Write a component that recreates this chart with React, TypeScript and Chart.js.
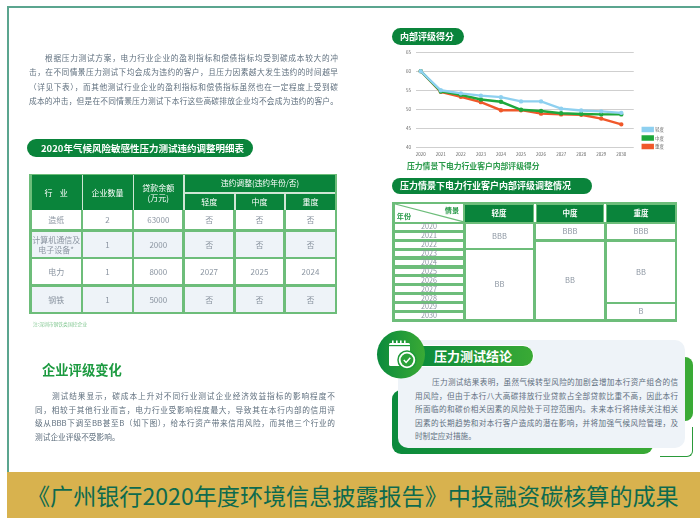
import React, { useEffect, useRef } from "react";
import { Chart, registerables } from "chart.js";

Chart.register(...registerables);

const years = [2020, 2021, 2022, 2023, 2024, 2025, 2026, 2027, 2028, 2029, 2030];
const lightScores = [60, 55, 54.2, 53.6, 53.2, 52.1, 52.1, 50.2, 49.7, 49.5, 49.1];
const midScores = [60, 54.7, 53.8, 52.6, 52, 49.9, 49.6, 49, 48.8, 48.7, 48.7];
const heavyScores = [60, 54.6, 53.3, 51.9, 49.8, 49.8, 48.9, 48.7, 48.6, 47.6, 46.1];
const scenarioNames = ["轻度", "中度", "重度"];

const para1 = [
  "根据压力测试方案,电力行业企业的盈利指标和偿债指标均受到碳成本较大的冲",
  "击,在不同情景压力测试下均会成为违约的客户,且压力因素越大发生违约的时间越早",
  "(详见下表),而其他测试行业企业的盈利指标和偿债指标虽然也在一定程度上受到碳",
  "成本的冲击,但是在不同情景压力测试下本行这些高碳排放企业均不会成为违约的客户。",
];
const para2 = [
  "测试结果显示,碳成本上升对不同行业测试企业经济效益指标的影响程度不",
  "同,相较于其他行业而言,电力行业受影响程度最大,导致其在本行内部的信用评",
  "级从BBB下调至BB甚至B(如下图),给本行资产带来信用风险,而其他三个行业的",
  "测试企业评级不受影响。",
];
const para3 = [
  "压力测试结果表明,虽然气候转型风险的加剧会增加本行资产组合的信",
  "用风险,但由于本行八大高碳排放行业贷款占全部贷款比重不高,因此本行",
  "所面临的和碳价相关因素的风险处于可控范围内。未来本行将持续关注相关",
  "因素的长期趋势和对本行客户造成的潜在影响,并将加强气候风险管理,及",
  "时制定应对措施。",
];
const tableRows = [
  ["造纸", "2", "63000", "否", "否", "否"],
  ["计算机通信及\n电子设备*", "1", "2000", "否", "否", "否"],
  ["电力", "1", "8000", "2027", "2025", "2024"],
  ["钢铁", "1", "5000", "否", "否", "否"],
];
const bannerText = "《广州银行2020年度环境信息披露报告》中投融资碳核算的成果";

const GREEN = "#0a843b";
const FRAME = "#6dbd7a";
const GREY = "#8b95a1";
const CJK = '"Noto Sans CJK SC", sans-serif';

function fullWidth(t: string) {
  return t.replace(/,/g, "\uFF0C").replace(/\(/g, "\uFF08").replace(/\)/g, "\uFF09");
}

function Box({ x, y, w, h, bg, color, size, bold, children, style }: any) {
  return (
    <div
      style={{
        position: "absolute",
        left: x,
        top: y,
        width: w,
        height: h,
        background: bg,
        color,
        fontSize: size,
        fontWeight: bold ? 700 : 400,
        display: "flex",
        alignItems: "center",
        justifyContent: "center",
        textAlign: "center",
        lineHeight: 1.15,
        whiteSpace: "pre",
        ...style,
      }}
    >
      {children}
    </div>
  );
}

function Para({ lines, x, y, w, pitch, indent, size }: any) {
  return (
    <>
      {lines.map((t: string, i: number) => {
        const last = t.length < 15;
        return (
          <div
            key={i}
            style={{
              position: "absolute",
              left: x + (i === 0 ? indent : 0),
              top: y + i * pitch - 6,
              width: w - (i === 0 ? indent : 0),
              height: 12,
              lineHeight: "12px",
              fontSize: size,
              color: "#5f6f7e",
              textAlign: last ? "left" : "justify",
              textAlignLast: last ? "left" : "justify",
              overflow: "hidden",
            }}
          >
            {fullWidth(t)}
          </div>
        );
      })}
    </>
  );
}

function Pill({ x, y, w, h, size, text, textX }: any) {
  return (
    <div
      style={{
        position: "absolute",
        left: x,
        top: y,
        width: w,
        height: h,
        borderRadius: h / 2,
        background: GREEN,
        color: "#fff",
        fontSize: size,
        fontWeight: 700,
        lineHeight: h + "px",
        paddingLeft: textX,
        boxSizing: "border-box",
        whiteSpace: "nowrap",
      }}
    >
      {text}
    </div>
  );
}

const colX = [31.7, 83.3, 134.3, 185, 235.7, 286];
const colW = [49, 48.4, 48, 48.3, 47.6, 49];
const rowY = [210, 232, 259, 287];
const rowH = [19, 25, 25, 25];
const yearTop = [224, 233, 242, 250.7, 259.7, 268.7, 277.3, 286.3, 295.3, 304, 313];

function StressTable() {
  return (
    <>
      <Box x={29} y={174} w={308} h={140} bg={FRAME} />
      <Box x={31.7} y={175} w={303.3} h={35} bg={GREEN} />
      {[81.5, 132.5, 183].map((x) => (
        <Box key={x} x={x} y={175} w={1.5} h={35} bg="#cfe6d5" />
      ))}
      <Box x={185} y={191.5} w={150} h={2} bg="#cfe6d5" />
      {[234, 284.3].map((x) => (
        <Box key={x} x={x} y={193} w={1.5} h={17} bg="#cfe6d5" />
      ))}
      <Box x={31.7} y={175} w={49} h={35} color="#fff" size={8}>{"行    业"}</Box>
      <Box x={83.3} y={175} w={48.4} h={35} color="#fff" size={8}>企业数量</Box>
      <Box x={134.3} y={175} w={48} h={35} color="#fff" size={8}>{"贷款余额\n(万元)"}</Box>
      <Box x={185} y={175} w={150} h={16} color="#fff" size={7.8}>违约调整(违约年份/否)</Box>
      {scenarioNames.map((s, i) => (
        <Box key={s} x={colX[3 + i]} y={194} w={colW[3 + i]} h={16} color="#fff" size={8}>{s}</Box>
      ))}
      {tableRows.map((row, r) =>
        row.map((cell, c) => (
          <Box
            key={r + "-" + c}
            x={colX[c]}
            y={rowY[r]}
            w={colW[c]}
            h={rowH[r]}
            bg={r % 2 ? "#eef3f8" : "#fff"}
            color={GREY}
            size={8}
          >
            {cell}
          </Box>
        ))
      )}
      <Box x={33} y={320} w={60} h={8} color="#86c995" size={4.8} style={{ justifyContent: "flex-start" }}>
        注:深圳市钢铁类国控企业
      </Box>
    </>
  );
}

function RatingTable() {
  const cells = [
    [466, 224, 67, 24, "BBB"],
    [466, 250, 67, 69, "BB"],
    [536, 224, 68, 15, "BBB"],
    [536, 242, 68, 77, "BB"],
    [607, 224, 68, 15, "BBB"],
    [607, 242, 68, 60, "BB"],
    [607, 304, 68, 15, "B"],
  ];
  return (
    <>
      <Box x={392} y={202} w={285} h={120} bg={FRAME} />
      <svg style={{ position: "absolute", left: 394.5, top: 204, width: 68.5, height: 18 }}>
        <rect width="69" height="18" fill="#fff" />
        <line x1="0" y1="0" x2="69" y2="18" stroke={FRAME} strokeWidth="1.2" />
      </svg>
      <Box x={443} y={205} w={18} h={10} color="#2a9a4a" size={7.2} bold>情景</Box>
      <Box x={396} y={211} w={16} h={10} color="#2a9a4a" size={7.2} bold>年份</Box>
      {[
        [465, 68],
        [537, 66],
        [607, 68],
      ].map(([x, w], i) => (
        <Box key={i} x={x} y={205} w={w} h={17} bg={GREEN} color="#fff" size={7.5} bold>
          {scenarioNames[i]}
        </Box>
      ))}
      {[534, 604].map((x) => (
        <Box key={x} x={x} y={204} w={1.5} h={18} bg="#fff" />
      ))}
      {years.map((yr, i) => (
        <React.Fragment key={yr}>
          <Box x={395} y={yearTop[i]} w={68} h={5.8} bg="#fff" />
          <Box x={395} y={yearTop[i] - 1} w={68} h={8} color={GREY} size={7.2} style={{ lineHeight: 1 }}>{String(yr)}</Box>
        </React.Fragment>
      ))}
      {cells.map(([x, y, w, h, t]: any, i) => (
        <Box key={i} x={x} y={y} w={w} h={h} bg="#fff" color={GREY} size={7.5}>{t}</Box>
      ))}
    </>
  );
}

function Conclusion() {
  const grad = "linear-gradient(90deg,#0a8a3c,#3aaa35)";
  return (
    <>
      <div style={{ position: "absolute", left: 392, top: 390, width: 261, height: 64, borderRadius: 9, background: grad }} />
      <div style={{ position: "absolute", left: 670, top: 357, width: 23, height: 64, borderRadius: "0 8px 8px 0", background: "#3aaa35" }} />
      <div style={{ position: "absolute", left: 660, top: 427, width: 32, height: 29, borderRight: "1px solid #2a9a3a", borderBottom: "1px solid #2a9a3a", borderRadius: "0 0 6px 0" }} />
      <div style={{ position: "absolute", left: 398, top: 340, width: 287, height: 108, borderRadius: 10, background: "#eef3f8" }} />
      <div
        style={{
          position: "absolute", left: 415, top: 345, width: 119, height: 22, borderRadius: "0 11px 11px 0",
          background: grad, border: "1px solid #fff", boxSizing: "border-box", color: "#fff", fontWeight: 700,
          fontSize: 13, lineHeight: "20px", paddingLeft: 18,
        }}
      >
        压力测试结论
      </div>
      <svg style={{ position: "absolute", left: 375, top: 329, width: 52, height: 52 }} viewBox="0 0 52 52">
        <defs>
          <linearGradient id="cg" x1="0" x2="1" y1="0" y2="0">
            <stop offset="0" stopColor="#0a8a3c" />
            <stop offset="1" stopColor="#3aaa35" />
          </linearGradient>
        </defs>
        <circle cx="26" cy="25.5" r="24" fill="url(#cg)" />
        <rect x="14" y="14" width="21" height="23" rx="1.5" fill="#fff" />
        <rect x="17" y="11.5" width="1.6" height="4" fill="#fff" />
        <rect x="21" y="11.5" width="1.6" height="4" fill="#fff" />
        <rect x="25" y="11.5" width="1.6" height="4" fill="#fff" />
        <rect x="29" y="11.5" width="1.6" height="4" fill="#fff" />
        <rect x="14" y="16" width="21" height="1.2" fill="#1c9a3a" />
        <circle cx="32" cy="31" r="9" fill="#fff" stroke="#1f9a3a" strokeWidth="1.5" />
        <circle cx="32" cy="31" r="6.4" fill="#2aa038" />
        <path d="M28.8 31 l2.3 2.4 l4.2 -4.6" fill="none" stroke="#fff" strokeWidth="1.5" />
      </svg>
    </>
  );
}

function ScoreChart() {
  const ref = useRef<HTMLCanvasElement>(null);
  useEffect(() => {
    const series = [lightScores, midScores, heavyScores];
    const colors = ["#8ed0f0", "#1ea83c", "#f0582a"];
    const chart = new Chart(ref.current as HTMLCanvasElement, {
      type: "line",
      data: {
        datasets: series.map((values, i) => ({
          label: scenarioNames[i],
          data: values.map((y, k) => ({ x: years[k], y })),
          borderColor: colors[i],
          backgroundColor: colors[i],
          borderWidth: 2.4,
          pointRadius: 1,
          tension: 0,
        })),
      },
      options: {
        animation: false,
        responsive: false,
        layout: { padding: { top: 10, right: 5 } },
        scales: {
          x: {
            type: "linear",
            min: 2019.765,
            max: 2030.62,
            afterFit: (s: any) => { s.height = 14.3; },
            grid: { display: false, drawTicks: false, tickLength: 0 },
            border: { display: false },
            ticks: {
              stepSize: 1,
              includeBounds: false,
              maxRotation: 0,
              autoSkip: false,
              padding: 3.5,
              color: "#666",
              font: { size: 4.5, family: CJK },
              callback: (v: any) => String(v),
            },
          },
          y: {
            min: 40,
            max: 65,
            afterFit: (s: any) => { s.width = 21; },
            border: { display: false },
            grid: { color: "#cfcfcf", lineWidth: 1, drawTicks: false },
            ticks: { stepSize: 5, padding: 5, color: "#666", font: { size: 4.5, family: CJK } },
          },
        },
        plugins: {
          tooltip: { enabled: false },
          legend: {
            position: "right",
            align: "end",
            fullSize: false,
            labels: { boxWidth: 10, boxHeight: 3, padding: 4, color: "#666", font: { size: 4.5, family: CJK } },
          },
        },
      },
      plugins: [
        {
          id: "legendShift",
          afterLayout(c: any) {
            c.legend.left += 5;
            c.legend.right += 5;
            c.legend.top += 5;
            c.legend.bottom += 5;
          },
        },
      ],
    } as any);
    return () => chart.destroy();
  }, []);
  return <canvas ref={ref} width={279} height={120} style={{ position: "absolute", left: 395, top: 42 }} />;
}

export default function App() {
  return (
    <div style={{ position: "fixed", left: 0, top: 0, width: 700, height: 518, overflow: "hidden", background: "#fff", fontFamily: CJK }}>
      <div style={{ position: "absolute", inset: 0, filter: "blur(0.45px)" }}>
        <div style={{ position: "absolute", left: 7, top: 6, right: 0, height: 2, background: "#5ba58f" }} />
        <div style={{ position: "absolute", left: 7, top: 6, bottom: 0, width: 2, background: "#5ba58f" }} />
        <Para lines={para1} x={29} y={58} w={309} pitch={14.4} indent={16} size={7.7} />
        <StressTable />
        <div style={{ position: "absolute", left: 42, top: 362, fontSize: 13.3, lineHeight: "16px", fontWeight: 700, color: "#1c9a40" }}>企业评级变化</div>
        <Para lines={para2} x={35} y={396} w={300} pitch={13.7} indent={17} size={7.7} />
        <Pill x={27} y={139} w={226} h={18} size={9.5} text="2020年气候风险敏感性压力测试违约调整明细表" textX={14} />
        <Pill x={392} y={28} w={72} h={17} size={9} text="内部评级得分" textX={8} />
        <ScoreChart />
        <div style={{ position: "absolute", left: 407, top: 160, fontSize: 7.8, lineHeight: "12px", fontWeight: 700, color: "#2a9a4a", whiteSpace: "nowrap" }}>
          压力情景下电力行业客户内部评级得分
        </div>
        <Pill x={392} y={178} w={200} h={16} size={9} text="压力情景下电力行业客户内部评级调整情况" textX={8} />
        <RatingTable />
        <Conclusion />
        <Para lines={para3} x={415} y={382} w={263} pitch={13.5} indent={17} size={7.6} />
      </div>
      <div style={{ position: "absolute", left: 7, top: 472, right: 0, bottom: 0, background: "#d8b24e", color: "#0d6a4e", fontSize: 23.1, lineHeight: "46px", paddingLeft: 20, whiteSpace: "nowrap" }}>
        {bannerText}
      </div>
    </div>
  );
}
